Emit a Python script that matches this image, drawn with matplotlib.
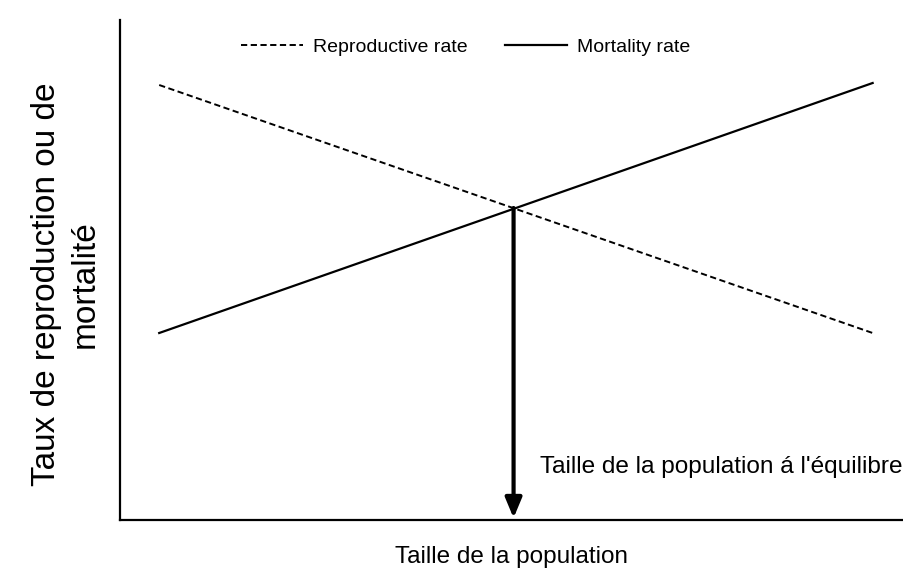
import matplotlib
matplotlib.use("Agg")
import matplotlib.pyplot as plt

plt.rcParams['font.family'] = ['Liberation Sans', 'DejaVu Sans']

# Data (arbitrary units)
pop_size = [5, 96]
reproductive_rate = [87, 37.4]
mortality_rate = [37.4, 87.4]
equilibrium_x = 50.2
equilibrium_y = 62.4

W, H = 904, 578
fig = plt.figure(figsize=(W / 100, H / 100), dpi=100)
ax = fig.add_axes([120 / W, (H - 520) / H, (W - 120) / W, (520 - 20) / H])
ax.set_xlim(0, 100)
ax.set_ylim(0, 100)

ax.plot(pop_size, reproductive_rate, color='black', lw=1.4,
        linestyle=(0, (3.2, 1.8)), label='Reproductive rate')
ax.plot(pop_size, mortality_rate, color='black', lw=1.6,
        label='Mortality rate')

ax.annotate('', xy=(equilibrium_x, 0.4), xytext=(equilibrium_x, equilibrium_y),
            arrowprops=dict(arrowstyle='-|>,head_length=1.2,head_width=0.5',
                            color='black', lw=3, shrinkA=0, shrinkB=0))

ax.text(53.6, 10.6, "Taille de la population á l'équilibre", fontsize=17.6,
        ha='left', va='center', clip_on=False)

leg = ax.legend(loc='center', bbox_to_anchor=(0.4407, 0.946), ncol=2, frameon=False,
                fontsize=14, handlelength=3.2, columnspacing=1.9, handletextpad=0.5)

ax.set_xticks([])
ax.set_yticks([])
for s in ['top', 'right']:
    ax.spines[s].set_visible(False)
for s in ['left', 'bottom']:
    ax.spines[s].set_linewidth(1.6)

ax.set_xlabel('Taille de la population', fontsize=17.5, labelpad=19)
fig.text(66 / W, (H - 284.5) / H, 'Taux de reproduction ou de\nmortalité',
         fontsize=24, rotation=90, ha='center', va='center',
         multialignment='center', linespacing=1.3)

fig.savefig('out.png', dpi=100, facecolor='white')
